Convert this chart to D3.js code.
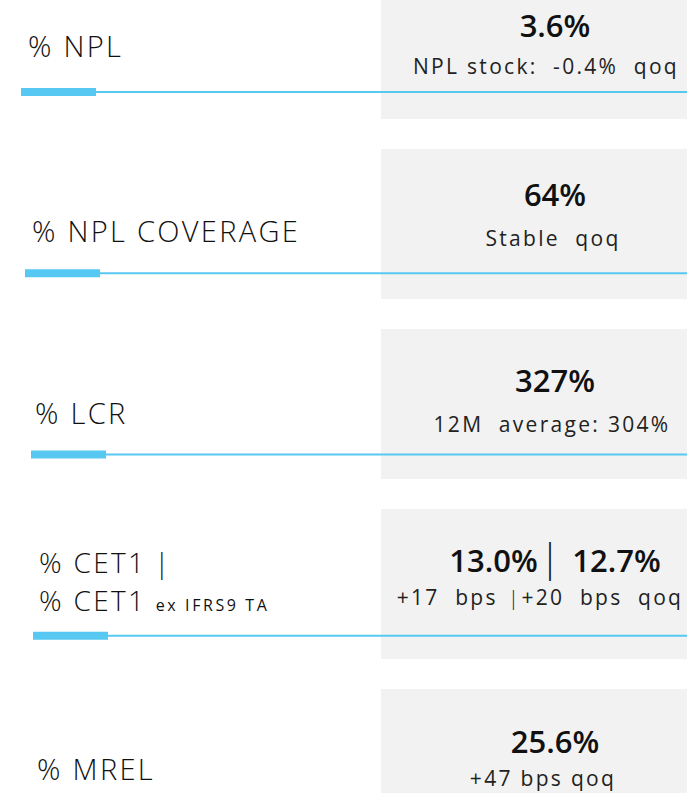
<!DOCTYPE html>
<html>
<head>
<meta charset="utf-8">
<script src="https://cdn.jsdelivr.net/npm/d3@7"></script>
<style>
  html, body { margin: 0; padding: 0; background: #fff; }
  svg { display: block; }
  text { white-space: pre; }
</style>
</head>
<body>
<figure id="kpi" style="margin:0"></figure>
<script>
// KPI rows
const labels = ["% NPL", "% NPL COVERAGE", "% LCR", "% CET1", "% MREL"];
const labelsSecond = [null, null, null, "% CET1 ", null];
const labelsNote = [null, null, null, "ex IFRS9 TA", null];
const values = ["3.6%", "64%", "327%", "13.0%", "25.6%"];
const valuesAlt = [null, null, null, "12.7%", null];
const changes = ["NPL stock:  -0.4%  qoq", "Stable  qoq", "12M  average: 304%", "+17  bps", "+47 bps qoq"];
const changesAlt = [null, null, null, "+20  bps  qoq", null];

// layout (per row tweaks, the slide is slightly skewed)
const width = 687, height = 793;
const labelX = [28, 32, 35, 39, 37];
const barX = [21, 25, 31, 33, 31];
const labelDy = [-35, -31, -31, -63, -37];
const labelSize = [29, 29, 29, 28, 29];
const valueDy = [-55, -67, -63, -64, -64];
const subDy = [-18, -27, -23, -31, -31];
const subCx = [546, 553, 552, 540, 543];
const blue = "#57c8f2", grey = "#f2f2f2";
const font = "'Open Sans', 'Noto Sans', sans-serif";

const rows = d3.range(labels.length);

const svg = d3.select("figure#kpi")
  .append("svg")
  .attr("width", width)
  .attr("height", height);

// line rows and box rows
const yLine = d3.scalePoint().domain(rows).range([92, 817]);
const yBox = d3.scalePoint().domain(rows).range([-31, 689]);
const xBox = d3.scaleLinear().domain([0, 1]).range([381, 712]);

// grey boxes
svg.selectAll("rect.box")
  .data(rows)
  .enter()
  .append("rect")
  .attr("class", "box")
  .attr("x", xBox(0))
  .attr("y", d => yBox(d))
  .attr("width", xBox(1) - xBox(0))
  .attr("height", 150)
  .attr("fill", grey);

// thin rule
svg.selectAll("line.rule")
  .data(rows)
  .enter()
  .append("line")
  .attr("x1", d => barX[d] + 75)
  .attr("x2", width)
  .attr("y1", d => yLine(d))
  .attr("y2", d => yLine(d))
  .attr("stroke", blue)
  .attr("stroke-width", 2.2);

// thick accent
svg.selectAll("rect.accent")
  .data(rows)
  .enter()
  .append("rect")
  .attr("x", d => barX[d])
  .attr("y", d => yLine(d) - 4)
  .attr("width", 75)
  .attr("height", 8)
  .attr("fill", blue);

// labels (CET1 row has a second line inside the same text)
const lab = svg.selectAll("text.label")
  .data(rows)
  .enter()
  .append("text")
  .attr("x", d => labelX[d])
  .attr("y", d => yLine(d) + labelDy[d])
  .attr("font-family", font)
  .attr("font-weight", 300)
  .attr("font-size", d => labelSize[d])
  .attr("letter-spacing", 2.3)
  .attr("fill", "#111");
lab.append("tspan").text(d => labels[d]);
lab.filter(d => labelsSecond[d]).each(function(d) {
  const t = d3.select(this);
  t.append("tspan").text("|").attr("dx", 8);
  t.append("tspan").text(labelsSecond[d]).attr("x", labelX[d]).attr("dy", 38);
  t.append("tspan").text(labelsNote[d])
    .attr("font-size", 16).attr("font-weight", 400).attr("letter-spacing", 2.6);
});

// big values
const val = svg.selectAll("text.value")
  .data(rows)
  .enter()
  .append("text")
  .attr("x", 555)
  .attr("y", d => yLine(d) + valueDy[d])
  .attr("text-anchor", "middle")
  .attr("font-family", font)
  .attr("font-weight", 600)
  .attr("font-size", 31)
  .attr("fill", "#111");
val.append("tspan").text(d => values[d]);
val.filter(d => valuesAlt[d]).each(function(d) {
  const t = d3.select(this);
  t.append("tspan").text("|").attr("dx", 2).attr("font-weight", 300).attr("font-size", 38);
  t.append("tspan").text(valuesAlt[d]).attr("dx", 12);
});

// change text
const sub = svg.selectAll("text.sub")
  .data(rows)
  .enter()
  .append("text")
  .attr("x", d => subCx[d])
  .attr("y", d => yLine(d) + subDy[d])
  .attr("text-anchor", "middle")
  .attr("font-family", font)
  .attr("font-size", 21)
  .attr("letter-spacing", 2.3)
  .attr("fill", "#222");
sub.append("tspan").text(d => changes[d]);
sub.filter(d => changesAlt[d]).each(function(d) {
  const t = d3.select(this);
  t.append("tspan").text("|").attr("dx", 10).attr("font-weight", 300);
  t.append("tspan").text(changesAlt[d]).attr("dx", 0);
});
</script>
</body>
</html>
